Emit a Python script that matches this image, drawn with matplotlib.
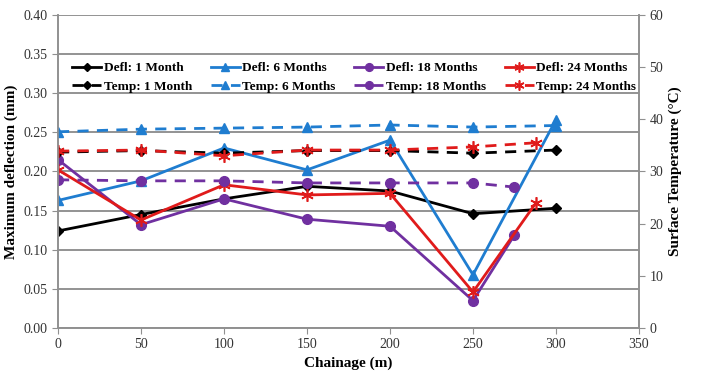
import matplotlib.pyplot as plt

plt.rcParams['font.family'] = ['Liberation Serif', 'DejaVu Serif']

# chainage (m)
x_full = [0, 50, 100, 150, 200, 250, 300]
x_18 = [0, 50, 100, 150, 200, 250, 275]
x_24 = [0, 50, 100, 150, 200, 250, 288]

# maximum deflection (mm)
defl_1 = [0.124, 0.145, 0.165, 0.181, 0.175, 0.146, 0.153]
defl_6 = [0.163, 0.188, 0.230, 0.202, 0.240, 0.068, 0.266]
defl_18 = [0.215, 0.132, 0.165, 0.139, 0.130, 0.035, 0.119]
defl_24 = [0.202, 0.138, 0.183, 0.170, 0.172, 0.046, 0.160]

# surface temperature (C)
temp_1 = [33.7, 34.0, 33.5, 34.0, 34.0, 33.5, 34.1]
temp_6 = [37.6, 38.1, 38.3, 38.5, 38.9, 38.5, 38.8]
temp_18 = [28.4, 28.2, 28.2, 27.8, 27.8, 27.8, 27.0]
temp_24 = [33.9, 34.1, 33.0, 34.1, 34.1, 34.7, 35.5]

black = 'black'
blue = '#1F7DD0'
purple = '#7030A0'
red = '#E01B1B'

fig = plt.figure(figsize=(7.08, 3.81), dpi=100)
ax = fig.add_axes([0.082, 0.139, 0.8205, 0.822])
ax2 = ax.twinx()

lw = 2
h = []
h += ax.plot(x_full, defl_1, color=black, lw=lw, marker='D', ms=5, label='Defl: 1 Month')
h += ax2.plot(x_full, temp_1, color=black, lw=lw, ls='--', dashes=(4, 3), marker='D', ms=5, label='Temp: 1 Month')
h += ax.plot(x_full, defl_6, color=blue, lw=lw, marker='^', ms=7, label='Defl: 6 Months')
h += ax2.plot(x_full, temp_6, color=blue, lw=lw, ls='--', dashes=(4, 3), marker='^', ms=7, label='Temp: 6 Months')
h += ax.plot(x_18, defl_18, color=purple, lw=lw, marker='o', ms=7, label='Defl: 18 Months')
h += ax2.plot(x_18, temp_18, color=purple, lw=lw, ls='--', dashes=(4, 3), marker='o', ms=7, label='Temp: 18 Months')
h += ax.plot(x_24, defl_24, color=red, lw=lw, marker=(6, 2, 0), ms=9, mew=1.2, label='Defl: 24 Months')
h += ax2.plot(x_24, temp_24, color=red, lw=lw, ls='--', dashes=(4, 3), marker=(6, 2, 0), ms=9, mew=1.2, label='Temp: 24 Months')

ax.set_xlim(0, 350)
ax.set_ylim(0, 0.40)
ax2.set_ylim(0, 60)
ax.set_xticks(range(0, 351, 50))
ax.set_yticks([i * 0.05 for i in range(9)])
ax.set_yticklabels(['%.2f' % (i * 0.05) for i in range(9)])
ax2.set_yticks(range(0, 61, 10))
ax.yaxis.grid(True, color='#808080', lw=1.2)
ax.set_axisbelow(True)

for a in (ax, ax2):
    for s in a.spines.values():
        s.set_color('#909090')
        s.set_linewidth(1.2)
    a.spines['top'].set_visible(False)
    a.tick_params(colors='#909090', labelcolor='#333333', labelsize=10, length=4)

ax.set_xlabel('Chainage (m)', fontweight='bold', fontsize=11)
ax.set_ylabel('Maximum deflection (mm)', fontweight='bold', fontsize=11)
ax2.set_ylabel('Surface Temperature (\u00b0C)', fontweight='bold', fontsize=11)

leg = ax2.legend(handles=h, ncol=4, loc='center', bbox_to_anchor=(0.51, 0.80),
                 frameon=False, handlelength=2.2, columnspacing=1.4,
                 handletextpad=0.2, labelspacing=0.5, borderpad=0.2,
                 markerscale=0.8, prop={'weight': 'bold', 'size': 9.5})

fig.savefig('out.png', dpi=100)
